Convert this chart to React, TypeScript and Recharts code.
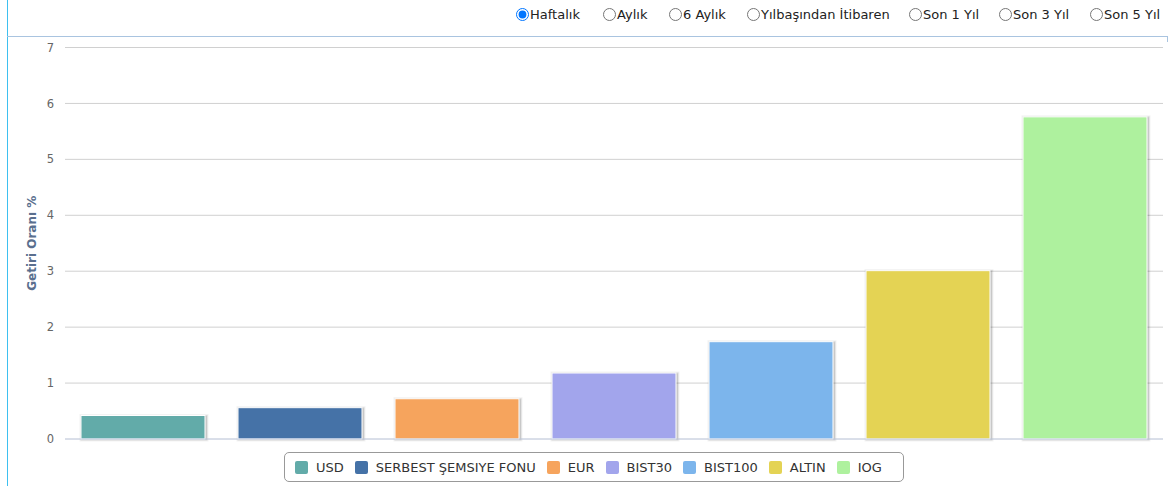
import { Bar, BarChart, CartesianGrid, Legend, XAxis, YAxis } from "recharts";

const FONT = "'DejaVu Sans', sans-serif";

// series names, values (%) and colours
const seriesNames = ["USD", "SERBEST ŞEMSIYE FONU", "EUR", "BIST30", "BIST100", "ALTIN", "IOG"];
const seriesValues = [0.42, 0.56, 0.72, 1.18, 1.74, 3.01, 5.76];
const seriesColors = ["#62aba9", "#4572a7", "#f6a45d", "#a2a5ec", "#7cb5ec", "#e4d354", "#aef19e"];
const yTicks = [0, 1, 2, 3, 4, 5, 6, 7];

const periods = ["Haftalık", "Aylık", "6 Aylık", "Yılbaşından İtibaren", "Son 1 Yıl", "Son 3 Yıl", "Son 5 Yıl"];
const periodX = [516, 603, 669, 747, 909, 999, 1090];

const row: Record<string, string | number> = { name: periods[0] };
seriesNames.forEach((n, i) => {
  row[n] = seriesValues[i];
});
const data = [row];

const ShadowBar = (props: any) => {
  const { x, y, width, height, fill } = props;
  if (!height) return <g />;
  return (
    <g>
      {[5, 3, 1].map((w, i) => (
        <rect
          key={i}
          x={x + 1}
          y={y + 1}
          width={width}
          height={height - 1}
          fill="none"
          stroke="#000"
          strokeOpacity={[0.05, 0.1, 0.15][i]}
          strokeWidth={w}
        />
      ))}
      <rect x={x} y={y} width={width} height={height} fill={fill} stroke="#ffffff" strokeWidth={1} />
    </g>
  );
};

const LegendBox = () => (
  <div style={{ position: "relative", height: 34 }}>
    <div
      style={{
        position: "absolute",
        left: 284,
        top: 0,
        width: 620,
        height: 30,
        border: "1px solid #999",
        borderRadius: 5,
        display: "flex",
        alignItems: "center",
        paddingLeft: 10,
        boxSizing: "border-box",
        fontFamily: FONT,
        fontSize: 13,
        color: "#333",
        whiteSpace: "nowrap",
      }}
    >
      {seriesNames.map((n, i) => (
        <div key={n} style={{ display: "flex", alignItems: "center", marginRight: 11 }}>
          <span
            style={{
              display: "inline-block",
              width: 13,
              height: 13,
              borderRadius: 2,
              background: seriesColors[i],
              marginRight: 8,
            }}
          />
          <span>{n}</span>
        </div>
      ))}
    </div>
  </div>
);

export default function App() {
  return (
    <div style={{ position: "absolute", left: 0, top: 0, width: 1173, height: 486, background: "#fff", fontFamily: FONT }}>
      <div style={{ position: "absolute", left: 7, top: 0, width: 1, height: 486, background: "#3ec0f0" }} />
      <div style={{ position: "absolute", left: 7, top: 36, width: 1161, height: 1, background: "#a9c4e0" }} />
      <div style={{ position: "absolute", left: 1167, top: 36, width: 1, height: 6, background: "#a9c4e0" }} />
      {periods.map((p, i) => (
        <label
          key={p}
          style={{
            position: "absolute",
            left: periodX[i],
            top: 7,
            display: "flex",
            alignItems: "center",
            fontSize: 13,
            color: "#222",
            whiteSpace: "nowrap",
          }}
        >
          <input type="radio" name="period" defaultChecked={i === 0} style={{ margin: 0, width: 13, height: 13 }} />
          <span style={{ marginLeft: 1 }}>{p}</span>
        </label>
      ))}
      <BarChart
        width={1173}
        height={486}
        data={data}
        margin={{ top: 47.5, right: 10, bottom: 0, left: 0 }}
        barSize={124}
        barGap={33}
        style={{ position: "absolute", left: 0, top: 0 }}
      >
        <CartesianGrid vertical={false} stroke="#d0d0d0" />
        <XAxis dataKey="name" tick={false} tickLine={false} axisLine={{ stroke: "#ccd6eb" }} height={13} />
        <YAxis
          domain={[0, 7]}
          ticks={yTicks}
          width={65}
          axisLine={false}
          tickLine={false}
          tickMargin={5}
          tick={{ fill: "#666", fontSize: 11.5, fontFamily: FONT }}
          label={{
            value: "Getiri Oranı %",
            angle: -90,
            position: "insideLeft",
            offset: 32,
            style: { fill: "#5a6f8e", fontSize: 12, fontWeight: "bold", fontFamily: FONT, textAnchor: "middle" },
          }}
        />
        {seriesNames.map((n, i) => (
          <Bar key={n} dataKey={n} fill={seriesColors[i]} shape={ShadowBar} isAnimationActive={false} />
        ))}
        <Legend verticalAlign="bottom" content={LegendBox} />
      </BarChart>
    </div>
  );
}
